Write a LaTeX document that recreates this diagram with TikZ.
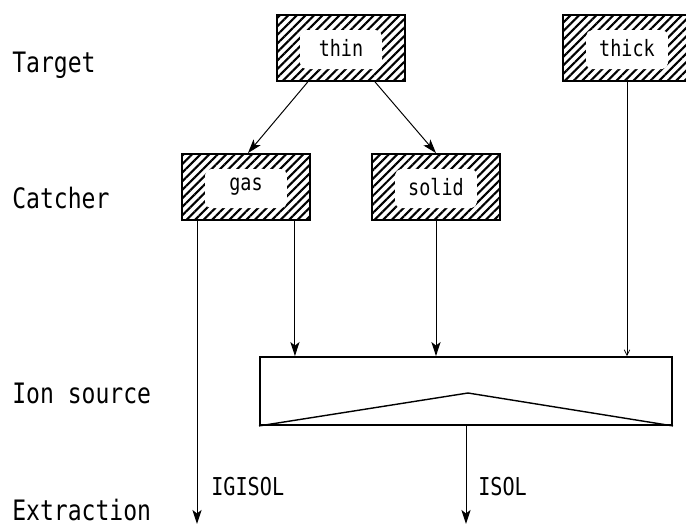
\documentclass[tikz,border=0pt]{standalone}
\usepackage{fontspec}
\newfontfamily\plotfont[FakeStretch=0.82]{DejaVu Sans Mono}
\usetikzlibrary{arrows.meta,patterns.meta}

\tikzset{
  hatchbox/.style={draw, line width=1.3pt, minimum width=3.2cm, minimum height=1.65cm,
    inner sep=0pt, font=\plotfont\fontsize{16}{16}\selectfont,
    path picture={
      \fill[pattern={Lines[angle=45,distance=4.3pt,line width=1.5pt]}]
        (path picture bounding box.south west) rectangle (path picture bounding box.north east);
      \fill[white,rounded corners=4pt]
        ([shift={(0.58cm,0.3cm)}]path picture bounding box.south west) rectangle
        ([shift={(-0.58cm,-0.38cm)}]path picture bounding box.north east);
    }},
  flow/.style={-{Stealth[length=10pt,width=6.5pt,inset=2.5pt]}, line width=0.7pt},
  level/.style={anchor=base west, inner sep=0pt, font=\plotfont\fontsize{20}{20}\selectfont},
  way/.style={anchor=base west, inner sep=0pt, font=\plotfont\fontsize{17.5}{18}\selectfont},
}

\begin{document}
\begin{tikzpicture}[x=0.025cm,y=-0.025cm]
\useasboundingbox (0,0) rectangle (686,526);

% levels
\node[level] (lTarget) at (12,72) {Target};
\node[level] (lCatcher) at (12,208) {Catcher};
\node[level] (lSource) at (12,403) {Ion source};
\node[level] (lExtract) at (12,520) {Extraction};

% targets and catchers
\node[hatchbox] (thin) at (341,48) {\raisebox{-3pt}{thin}};
\node[hatchbox] (thick) at (627,48) {\raisebox{-3pt}{thick}};
\node[hatchbox] (gas) at (246,187) {\raisebox{-3pt}{gas}};
\node[hatchbox] (solid) at (436,187) {\raisebox{-3pt}{solid}};

% ion source
\node[draw, line width=1.3pt, minimum width=10.3cm, minimum height=1.7cm, inner sep=0pt] (src) at (466,391) {};
\coordinate (apex) at (468,393);
\draw[line width=1pt] (src.south west) -- (apex) -- (src.south east);

% extraction ends
\coordinate (igisol) at (197,524);
\coordinate (isol) at (466,524);

\draw[flow] ([xshift=-0.83cm]thin.south) -- ([xshift=0.05cm]gas.north);
\draw[flow] ([xshift=0.85cm]thin.south) -- (solid.north);
\draw[flow] (gas.south west -| igisol) -- (igisol);
\draw[flow] ([xshift=-0.4cm]gas.south east) -- ([xshift=-0.4cm]gas.south east |- src.north);
\draw[flow] (solid.south) -- (solid.south |- src.north);
\draw[-{Straight Barb[length=4pt,width=4pt]}, line width=0.5pt] (thick.south) -- (thick.south |- src.north);
\draw[flow] (src.south) -- (isol);

\node[way] (tIgisol) at (211,495) {IGISOL};
\node[way] (tIsol) at (478,495) {ISOL};
\end{tikzpicture}
\end{document}
